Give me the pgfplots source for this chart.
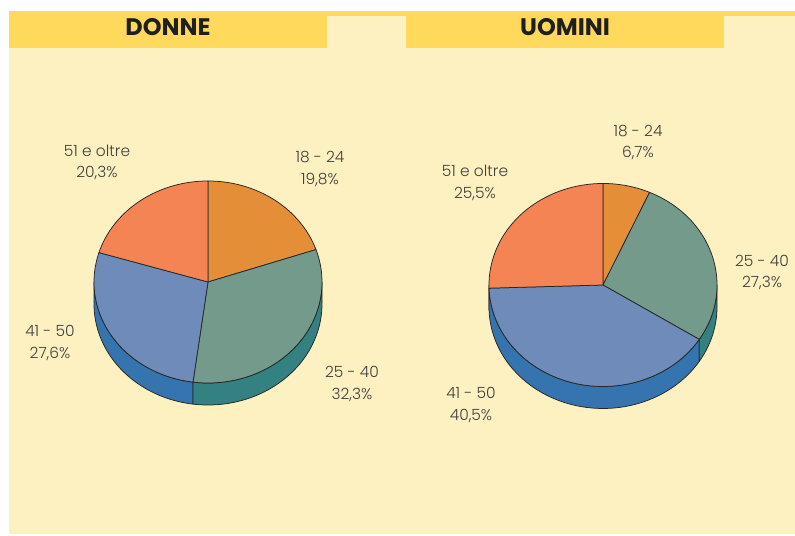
\documentclass[border=0pt]{standalone}
\usepackage{pgfplots}
\pgfplotsset{compat=1.18}
\usepackage{fontspec}
\setmainfont{Poppins}
\IfFontExistsTF{Poppins Light}{\newfontfamily\lightfont{Poppins Light}}{\newfontfamily\lightfont{Poppins}}
\definecolor{hdr}{HTML}{FFD95C}
\definecolor{bgl}{HTML}{FDF0C1}
\definecolor{cOr}{HTML}{E48F38}
\definecolor{cSa}{HTML}{739A8A}
\definecolor{cBl}{HTML}{6E8BB9}
\definecolor{cSm}{HTML}{F58455}
\definecolor{sTe}{HTML}{338181}
\definecolor{sBl}{HTML}{3574AE}
\definecolor{sSm}{HTML}{D96B3F}
\definecolor{edge}{HTML}{262626}
\definecolor{txt}{HTML}{404040}
% percentages
\def\LpA{19.8}\def\LpB{32.3}\def\LpC{27.6}\def\LpD{20.3}
\def\RpA{6.7}\def\RpB{27.3}\def\RpC{40.5}\def\RpD{25.5}
\pgfmathsetmacro\LA{90-3.6*\LpA}
\pgfmathsetmacro\LB{\LA-3.6*\LpB}
\pgfmathsetmacro\LC{\LB-3.6*\LpC}
\pgfmathsetmacro\LD{\LC-3.6*\LpD}
\pgfmathsetmacro\RA{90-3.6*\RpA}
\pgfmathsetmacro\RB{\RA-3.6*\RpB}
\pgfmathsetmacro\RC{\RB-3.6*\RpC}
\pgfmathsetmacro\RD{\RC-3.6*\RpD}
\newcommand\wedgeslice[6]{%
\addplot[fill=#6, draw=edge, line width=0.75pt, line join=round, domain=#4:#5, samples=90, variable=\t]
  ({#1+114*cos(\t)},{#2+#3*sin(\t)}) -- (#1,#2) -- cycle;}
% side band: bottom arc lo->hi, vertical edge, top arc hi->lo, closed
\newcommand\sidepart[6]{%
\addplot[fill=#6, draw=edge, line width=0.75pt, line join=round, domain=0:3, samples=181, variable=\t]
  ({#1+114*cos(ifthenelse(\t<=1, #4+(#5-#4)*\t, ifthenelse(\t<=2, #5, #5-(#5-#4)*(\t-2))))},
   {#2+#3*sin(ifthenelse(\t<=1, #4+(#5-#4)*\t, ifthenelse(\t<=2, #5, #5-(#5-#4)*(\t-2))))
     - ifthenelse(\t<=1, 22, ifthenelse(\t<=2, 22*(2-\t), 0))}) -- cycle;}
\tikzset{lab/.style={font=\lightfont\fontsize{15.5}{17}\selectfont, text=txt, anchor=base, inner sep=0pt},
  ttl/.style={font=\bfseries\fontsize{24}{27}\selectfont, text=black!88, anchor=base, inner sep=0pt}}
\begin{document}
\begin{tikzpicture}
\fill[white] (0,0) rectangle (795bp,536bp);
\fill[bgl] (9bp,2bp) rectangle (795bp,520bp);
\fill[hdr] (9bp,520bp) rectangle (795bp,525bp);
\fill[hdr] (9bp,488bp) rectangle (327bp,525bp);
\fill[hdr] (406bp,488bp) rectangle (724bp,525bp);
\node[ttl] at (168bp,500bp) {DONNE};
\node[ttl] at (565bp,500bp) {UOMINI};
\begin{axis}[at={(0,0)}, anchor=south west, width=795bp, height=536bp, scale only axis,
  xmin=0, xmax=795, ymin=0, ymax=536, hide axis, clip=false]
% left pie: centre (208,254)
\sidepart{208}{254}{101}{-180}{\LB}{sBl}
\sidepart{208}{254}{101}{\LB}{0}{sTe}
\wedgeslice{208}{254}{101}{\LA}{90}{cOr}
\wedgeslice{208}{254}{101}{\LB}{\LA}{cSa}
\wedgeslice{208}{254}{101}{\LC}{\LB}{cBl}
\wedgeslice{208}{254}{101}{\LD}{\LC}{cSm}
% right pie: centre (603,251)
\sidepart{603}{251}{101.5}{-180}{\RC}{sSm}
\sidepart{603}{251}{101.5}{\RC}{\RB}{sBl}
\sidepart{603}{251}{101.5}{\RB}{0}{sTe}
\wedgeslice{603}{251}{101.5}{\RA}{90}{cOr}
\wedgeslice{603}{251}{101.5}{\RB}{\RA}{cSa}
\wedgeslice{603}{251}{101.5}{\RC}{\RB}{cBl}
\wedgeslice{603}{251}{101.5}{\RD}{\RC}{cSm}
\end{axis}
\node[lab] at (97bp,379bp) {51 e oltre};
\node[lab] at (97bp,358bp) {20,3\%};
\node[lab] at (320bp,373bp) {18 - 24};
\node[lab] at (320bp,351bp) {19,8\%};
\node[lab] at (50bp,199bp) {41 - 50};
\node[lab] at (50bp,177bp) {27,6\%};
\node[lab] at (352bp,158bp) {25 - 40};
\node[lab] at (352bp,136bp) {32,3\%};
\node[lab] at (475bp,359bp) {51 e oltre};
\node[lab] at (475bp,337bp) {25,5\%};
\node[lab] at (638bp,399bp) {18 - 24};
\node[lab] at (638bp,378bp) {6,7\%};
\node[lab] at (762bp,269bp) {25 - 40};
\node[lab] at (762bp,248bp) {27,3\%};
\node[lab] at (471bp,137bp) {41 - 50};
\node[lab] at (471bp,115bp) {40,5\%};
\end{tikzpicture}
\end{document}
